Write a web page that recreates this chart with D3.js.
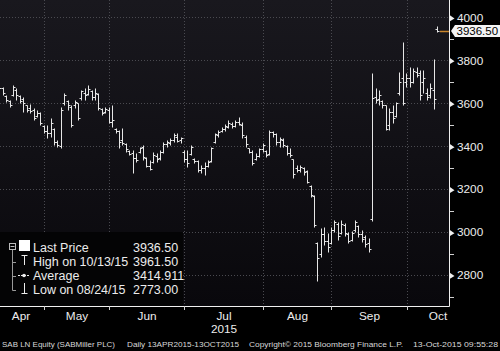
<!DOCTYPE html>
<html>
<head>
<meta charset="utf-8">
<script src="https://cdn.jsdelivr.net/npm/d3@7"></script>
<style>
	html, body { margin: 0; padding: 0; background: #000; }
	svg { display: block; font-family: "Liberation Sans", Arial, sans-serif; }
</style>
</head>
<body>
<div id="chart"></div>
<script>

// trading sessions, 13 Apr 2015 - 13 Oct 2015 (LSE)
const monthNames = ["Apr", "May", "Jun", "Jul", "Aug", "Sep", "Oct"];
const sessionDays = [
	[13,14,15,16,17,20,21,22,23,24,27,28,29,30],
	[1,5,6,7,8,11,12,13,14,15,18,19,20,21,22,26,27,28,29],
	[1,2,3,4,5,8,9,10,11,12,15,16,17,18,19,22,23,24,25,26,29,30],
	[1,2,3,6,7,8,9,10,13,14,15,16,17,20,21,22,23,24,27,28,29,30,31],
	[3,4,5,6,7,10,11,12,13,14,17,18,19,20,21,24,25,26,27,28],
	[1,2,3,4,7,8,9,10,11,14,15,16,17,18,21,22,23,24,25,28,29,30],
	[1,2,5,6,7,8,9,12,13]
];

// daily OHLC (pence)
const openPx = [
	3650,3670,3635,3610,3640,3660,3635,3620,3590,3580,3570,3540,3555,3495,
	3470,3460,3480,3420,3400,3600,3610,3585,3590,3600,3625,3650,3645,3655,3630,3645,3575,3560,3570,
	3515,3480,3470,3430,3410,3380,3370,3345,3375,3395,3345,3310,3325,3355,3345,3375,3410,3415,3430,3445,3430,3375,
	3340,3365,3340,3330,3290,3300,3310,3330,3420,3450,3470,3480,3490,3505,3495,3515,3500,3445,3390,3375,3340,3355,3385,
	3380,3365,3465,3455,3420,3430,3400,3370,3340,3300,3290,3300,3285,3215,3170,2950,2900,2990,2960,2950,
	3010,3040,2995,3035,2990,2965,3010,3030,2990,2975,2950,3060,3630,3620,3610,3590,3500,3560,3540,3650,3720,3700,
	3720,3700,3745,3740,3700,3650,3640,3660,3945
];
const highPx = [
	3685,3676,3639,3616,3685,3671,3639,3630,3592,3597,3578,3569,3560,3499,
	3499,3531,3485,3429,3583,3648,3616,3592,3616,3601,3662,3671,3685,3662,3671,3648,3578,3583,3583,
	3592,3485,3476,3485,3415,3383,3383,3369,3397,3406,3350,3336,3373,3369,3383,3420,3429,3439,3462,3462,3443,3383,
	3383,3406,3345,3336,3313,3327,3336,3397,3462,3476,3490,3504,3522,3513,3522,3536,3513,3452,3392,3383,3369,3392,3415,
	3383,3476,3471,3462,3443,3439,3406,3392,3341,3313,3313,3304,3289,3220,3173,2955,3019,3024,2996,3024,
	3056,3047,3056,3042,3000,3005,3056,3033,3010,2987,2973,3741,3671,3662,3616,3592,3578,3592,3606,3746,3886,3741,
	3769,3765,3769,3755,3755,3671,3695,3807,3961.5
];
const lowPx = [
	3630,3639,3606,3583,3634,3616,3601,3560,3560,3555,3522,3536,3499,3462,
	3439,3443,3406,3397,3392,3592,3569,3490,3578,3522,3616,3616,3639,3616,3616,3569,3546,3555,3508,
	3490,3462,3392,3406,3373,3359,3275,3327,3369,3336,3304,3289,3322,3327,3336,3369,3397,3406,3420,3420,3415,3327,
	3304,3359,3322,3280,3275,3266,3304,3327,3415,3443,3466,3471,3485,3485,3490,3499,3439,3397,3369,3313,3336,3350,3373,
	3350,3359,3443,3406,3397,3397,3359,3350,3252,3280,3280,3266,3229,3164,3024,2773,2884,2940,2908,2945,
	3000,2963,2990,2982,2949,2958,3000,2977,2954,2931,2908,3050,3601,3592,3578,3476,3476,3508,3536,3639,3592,3676,
	3676,3695,3723,3616,3650,3616,3625,3574,3930
];
const closePx = [
	3670,3650,3615,3590,3675,3640,3610,3600,3570,3565,3530,3555,3510,3470,
	3460,3510,3420,3405,3570,3640,3590,3500,3605,3530,3655,3640,3665,3630,3650,3580,3555,3575,3515,
	3520,3470,3420,3415,3385,3365,3345,3335,3390,3350,3310,3295,3360,3340,3375,3410,3420,3430,3450,3425,3440,3340,
	3320,3395,3330,3290,3300,3310,3325,3390,3455,3465,3480,3495,3510,3495,3515,3505,3450,3410,3375,3320,3355,3385,3405,
	3360,3465,3455,3420,3435,3405,3370,3360,3270,3290,3305,3280,3235,3175,3035,2880,2990,2960,2930,3010,
	3045,2980,3040,2995,2960,2995,3045,2990,2970,2945,2920,3625,3615,3640,3590,3480,3560,3530,3600,3700,3600,3720,
	3700,3750,3730,3640,3720,3630,3670,3620,3936.5
];

// right axis
const priceTicks = [2800, 3000, 3200, 3400, 3600, 3800, 4000];
const minorTicks = [2700, 2900, 3100, 3300, 3500, 3700, 3900];

// legend
const legendLabels = ["Last Price", "High on 10/13/15", "Average", "Low on 08/24/15"];
const legendValues = ["3936.50", "3961.50", "3414.911", "2773.00"];
const lastPrice = 3936.5;

// footer
const footerParts = [
	"SAB LN Equity (SABMiller PLC)",
	"Daily 13APR2015-13OCT2015",
	"Copyright\u00A9 2015 Bloomberg Finance L.P.",
	"13-Oct-2015 09:55:28"
];


// ---- build the series
let tradingDays = [];
let monthStarts = [];
sessionDays.forEach((days, m) => {
	monthStarts.push(monthNames[m] + " " + days[0]);
	days.forEach(d => tradingDays.push(monthNames[m] + " " + d));
});

let bars = tradingDays.map((d, i) => ({
	day: d, open: openPx[i], high: highPx[i], low: lowPx[i], close: closePx[i]
}));


// ---- layout
let width = 500, height = 351;
let plot = {left: 0, right: 449, top: 0, bottom: 306};

let svg = d3.select("#chart").append("svg")
	.attr("width", width)
	.attr("height", height);

svg.append("rect")
	.attr("width", width)
	.attr("height", height)
	.attr("fill", "#000");

let defs = svg.append("defs");
let grad = defs.append("linearGradient")
	.attr("id", "bg")
	.attr("x1", 0).attr("y1", 0).attr("x2", 0).attr("y2", 1);
grad.append("stop").attr("offset", "0%").attr("stop-color", "#19181e");
grad.append("stop").attr("offset", "100%").attr("stop-color", "#09080c");

defs.append("clipPath").attr("id", "plotclip")
	.append("rect")
	.attr("x", plot.left).attr("y", plot.top)
	.attr("width", plot.right - plot.left)
	.attr("height", plot.bottom - plot.top);

svg.append("rect")
	.attr("x", plot.left).attr("y", plot.top)
	.attr("width", plot.right - plot.left)
	.attr("height", plot.bottom - plot.top)
	.attr("fill", "url(#bg)");


// ---- scales
let step = 3.42;
let x = d3.scaleBand()
	.domain(tradingDays)
	.range([-2.4, -2.4 + step * tradingDays.length])
	.padding(0);

let y = d3.scaleLinear()
	.domain([2656, 4081])
	.range([plot.bottom, plot.top]);

let cx = d => Math.round(x(d) + x.bandwidth() / 2) + 0.5;
let py = v => Math.round(y(v)) + 0.5;
// month boundary, sits a little left of the first session's band
let bx = d => Math.round(x(d) - 1.3) + 0.5;


// ---- grid
let grid = svg.append("g").attr("class", "grid")
	.attr("stroke", "#4a4a50")
	.attr("stroke-dasharray", "1,2");

grid.selectAll(".hgrid")
	.data(priceTicks)
	.enter().append("line")
	.attr("x1", plot.left).attr("x2", plot.right)
	.attr("y1", d => py(d)).attr("y2", d => py(d));

grid.selectAll(".vgrid")
	.data(monthStarts.slice(1))
	.enter().append("line")
	.attr("x1", d => bx(d)).attr("x2", d => bx(d))
	.attr("y1", plot.top).attr("y2", plot.bottom);


// ---- OHLC bars
let barG = svg.append("g")
	.attr("clip-path", "url(#plotclip)")
	.attr("stroke", "#e6e6e6")
	.attr("stroke-width", 1);

let bar = barG.selectAll(".bar")
	.data(bars)
	.enter().append("g")
	.attr("class", "bar");

bar.append("line")
	.attr("x1", d => cx(d.day)).attr("x2", d => cx(d.day))
	.attr("y1", d => py(d.high)).attr("y2", d => py(d.low));
bar.append("line")
	.attr("x1", d => cx(d.day) - 2).attr("x2", d => cx(d.day))
	.attr("y1", d => py(d.open)).attr("y2", d => py(d.open));
bar.append("line")
	.attr("x1", d => cx(d.day)).attr("x2", d => cx(d.day) + 2)
	.attr("y1", d => py(d.close)).attr("y2", d => py(d.close));


// ---- legend (drawn over the grid)
let leg = svg.append("g").attr("class", "legend");
leg.append("rect")
	.attr("x", 0).attr("y", 232)
	.attr("width", 183).attr("height", plot.bottom - 232)
	.attr("fill", "#040405");

let rowY = [251.5, 265.5, 279.5, 293.5];
let ink = "#ececec";

// tree connector
leg.append("rect")
	.attr("x", 9.5).attr("y", 243.5).attr("width", 6).attr("height", 6)
	.attr("fill", "none").attr("stroke", "#bbb");
leg.append("line")
	.attr("x1", 10.5).attr("x2", 14.5).attr("y1", 246.5).attr("y2", 246.5)
	.attr("stroke", "#bbb");
leg.append("line")
	.attr("x1", 12.5).attr("x2", 12.5).attr("y1", 250).attr("y2", 290.5)
	.attr("stroke", "#999");
leg.selectAll(".branch")
	.data(rowY.slice(1))
	.enter().append("line")
	.attr("x1", 12.5).attr("x2", 16)
	.attr("y1", d => Math.round(d - 4) + 0.5).attr("y2", d => Math.round(d - 4) + 0.5)
	.attr("stroke", "#999");

// symbols
leg.append("rect")
	.attr("x", 19).attr("y", 240).attr("width", 11).attr("height", 11)
	.attr("fill", "#fff");
leg.append("path")
	.attr("d", "M21.5,255.5H27.5M24.5,255.5V265")
	.attr("stroke", ink).attr("fill", "none");
leg.append("path")
	.attr("d", "M18,275.5H30")
	.attr("stroke", ink).attr("stroke-dasharray", "2,1");
leg.append("circle")
	.attr("cx", 24).attr("cy", 275.5).attr("r", 1.8)
	.attr("fill", ink);
leg.append("path")
	.attr("d", "M24.5,283V293.5M21.5,293.5H27.5")
	.attr("stroke", ink).attr("fill", "none");

leg.selectAll(".lab")
	.data(legendLabels)
	.enter().append("text")
	.attr("x", 33)
	.attr("y", (d, i) => rowY[i])
	.attr("fill", ink)
	.attr("font-size", "12.5px")
	.text(d => d);

leg.selectAll(".val")
	.data(legendValues)
	.enter().append("text")
	.attr("x", 133)
	.attr("y", (d, i) => rowY[i])
	.attr("fill", ink)
	.attr("font-size", "12.5px")
	.text(d => d);


// ---- axes lines
svg.append("line")
	.attr("x1", plot.right + 0.5).attr("x2", plot.right + 0.5)
	.attr("y1", 0).attr("y2", plot.bottom + 0.5)
	.attr("stroke", "#f0f0f0");
svg.append("line")
	.attr("x1", 0).attr("x2", plot.right + 0.5)
	.attr("y1", plot.bottom + 0.5).attr("y2", plot.bottom + 0.5)
	.attr("stroke", "#f0f0f0");


// ---- right axis: labels from d3, ticks replaced by little arrows
let yAxis = d3.axisRight(y)
	.tickValues(priceTicks)
	.tickSize(0)
	.tickPadding(8)
	.tickFormat(d3.format("d"));

let yAxisG = svg.append("g")
	.attr("class", "y-axis axis")
	.attr("transform", "translate(" + plot.right + ",0)")
	.call(yAxis);
yAxisG.select(".domain").remove();
yAxisG.selectAll("text")
	.attr("fill", "#ececec")
	.attr("font-size", "11.8px")
	.attr("font-family", "Liberation Sans, Arial, sans-serif");
yAxisG.selectAll(".tick")
	.append("path")
	.attr("d", "M0.5,-3L5.5,0.5L0.5,3.5Z")
	.attr("fill", "#f0f0f0");

svg.append("g")
	.selectAll("line")
	.data(minorTicks)
	.enter().append("line")
	.attr("x1", plot.right + 1).attr("x2", plot.right + 5)
	.attr("y1", d => py(d)).attr("y2", d => py(d))
	.attr("stroke", "#d0d0d0");


// ---- last price marker
let lastY = y(lastPrice);
svg.append("line")
	.attr("x1", cx(tradingDays[tradingDays.length - 1]) + 2.5).attr("x2", plot.right)
	.attr("y1", Math.round(lastY) + 0.5).attr("y2", Math.round(lastY) + 0.5)
	.attr("stroke", "#c9862c")
	.attr("stroke-width", 1.5);
svg.append("path")
	.attr("d", "M451," + lastY + "L455," + (lastY - 6) + "H500V" + (lastY + 6) + "H455Z")
	.attr("fill", "#f4f4f4");
svg.append("text")
	.attr("x", 456.5)
	.attr("y", lastY + 4.2)
	.attr("fill", "#000")
	.attr("font-size", "11.5px")
	.text(d3.format(".2f")(lastPrice));


// ---- bottom axis: month boundaries + centred month names
let xTicks = svg.append("g").attr("class", "x-axis axis");
xTicks.selectAll("line")
	.data(monthStarts.slice(1))
	.enter().append("line")
	.attr("x1", d => bx(d)).attr("x2", d => bx(d))
	.attr("y1", plot.bottom).attr("y2", plot.bottom + 4)
	.attr("stroke", "#d0d0d0");

let edges = monthStarts.map((d, i) => i === 0 ? x.range()[0] : bx(d));
edges.push(bx(monthStarts[monthStarts.length - 1]) + 61);

xTicks.selectAll("text")
	.data(monthNames)
	.enter().append("text")
	.attr("x", (d, i) => (edges[i] + edges[i + 1]) / 2)
	.attr("y", 320)
	.attr("text-anchor", "middle")
	.attr("fill", "#ececec")
	.attr("font-size", "11.8px")
	.text(d => d);

xTicks.append("text")
	.attr("x", (edges[3] + edges[4]) / 2)
	.attr("y", 333)
	.attr("text-anchor", "middle")
	.attr("fill", "#ececec")
	.attr("font-size", "11.8px")
	.text("2015");


// ---- footer
let footX = [2, 127, 249, 413];
let footW = [113, 112, 154, 85];
svg.append("g")
	.selectAll("text")
	.data(footerParts)
	.enter().append("text")
	.attr("x", (d, i) => footX[i])
	.attr("y", 347)
	.attr("fill", "#d8d8d8")
	.attr("font-size", "8px")
	.attr("textLength", (d, i) => footW[i])
	.attr("lengthAdjust", "spacingAndGlyphs")
	.text(d => d);

</script>
</body>
</html>
